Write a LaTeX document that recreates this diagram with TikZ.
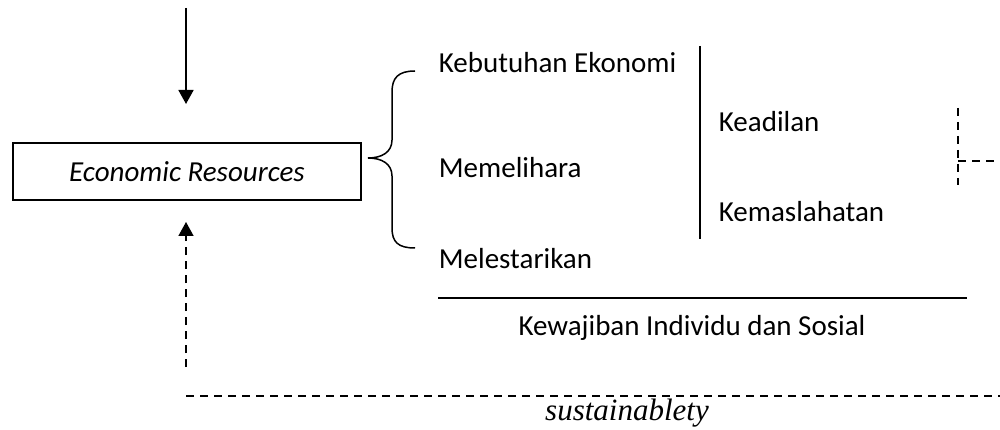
\documentclass[tikz,border=0pt]{standalone}
\usepackage{fontspec}
\setmainfont{Carlito}
\newfontfamily\timesfont{Liberation Serif}
\usetikzlibrary{arrows.meta}
\begin{document}
\begin{tikzpicture}[x=1pt,y=-1pt,
  line width=1.8pt,
  lbl/.style={inner sep=0pt,font=\fontsize{29}{34}\selectfont},
  dashline/.style={line width=1.6pt,dash pattern=on 8pt off 6pt},
  tip/.style={-{Triangle[width=15pt,length=14pt]}}]
\useasboundingbox (0,0) rectangle (1000,430);

% central box
\node[draw,minimum width=348pt,minimum height=57pt,inner sep=0pt] (er) at (187,171.5) {};
\node[lbl,anchor=base,font=\fontsize{29}{34}\selectfont\itshape] (ertxt) at (187,182) {Economic Resources};

% incoming arrows
\coordinate (topin) at (186,8);
\coordinate (topend) at (186,104);
\draw[tip] (topin) -- (topend);
\coordinate (botin) at (186,367);
\coordinate (botend) at (186,222);
\draw[tip,dashline] (botin) -- (botend);

% brace
\coordinate (btop) at (415,71);
\coordinate (bmid) at (368,158);
\coordinate (bbot) at (415,248);
\draw[line width=1.5pt] (btop) .. controls (398,71) and (392,78) .. (392,92)
  -- (392,140) .. controls (392,152) and (382,158) .. (bmid)
  .. controls (382,158) and (392,164) .. (392,176)
  -- (392,228) .. controls (392,242) and (398,248) .. (bbot);

% items
\node[lbl,anchor=base west] (keb) at (438,73) {Kebutuhan Ekonomi};
\node[lbl,anchor=base west] (mem) at (438,178) {Memelihara};
\node[lbl,anchor=base west] (mel) at (438,268) {Melestarikan};

% divider and values
\coordinate (vtop) at (700,46);
\coordinate (vbot) at (700,239);
\draw (vtop) -- (vbot);
\node[lbl,anchor=base west] (kead) at (718,132) {Keadilan};
\node[lbl,anchor=base west] (kem) at (718,222) {Kemaslahatan};

% obligation line
\coordinate (hl) at (438,298);
\coordinate (hr) at (967,298);
\draw (hl) -- (hr);
\node[lbl,anchor=base] (kew) at (692,335) {Kewajiban Individu dan Sosial};

% dashed bracket on the right
\coordinate (dtop) at (958,108);
\coordinate (dbot) at (958,185);
\coordinate (dmid) at (958,161);
\coordinate (dout) at (1000,161);
\draw[dashline] (dtop) -- (dbot);
\draw[dashline] (dmid) -- (dout);

% sustainability line
\coordinate (sl) at (186,396);
\coordinate (sr) at (1000,396);
\draw[dashline] (sl) -- (sr);
\node[inner sep=0pt,anchor=base,font=\timesfont\itshape\fontsize{31}{36}\selectfont] (sus) at (627,420) {sustainablety};
\end{tikzpicture}
\end{document}
